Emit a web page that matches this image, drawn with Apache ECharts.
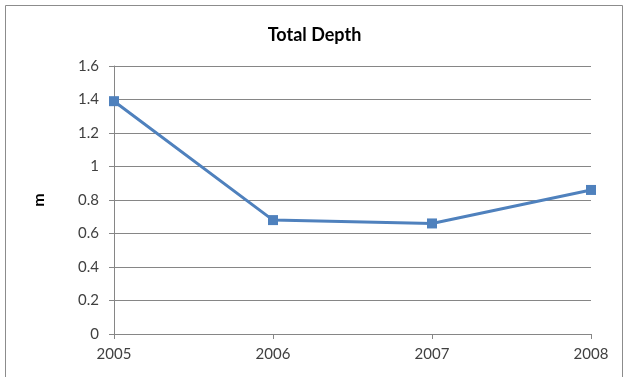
<!DOCTYPE html>
<html>
<head>
<meta charset="utf-8">
<style>
  html, body { margin: 0; padding: 0; background: #ffffff; }
  #chart { width: 629px; height: 377px; }
</style>
<script src="https://cdn.jsdelivr.net/npm/echarts@6/dist/echarts.min.js"></script>
</head>
<body>
<div id="chart"></div>
<script>
// Yearly total depth (m)
const years = ['2005', '2006', '2007', '2008'];
const totalDepth = [1.39, 0.68, 0.66, 0.86];
const yMin = 0, yMax = 1.6, yStep = 0.2;

const axisGray = '#868686';
const textColor = '#404040';
const fontFamily = 'Lato, "Open Sans", "Liberation Sans", sans-serif';

const chart = echarts.init(document.getElementById('chart'), null, { renderer: 'canvas' });
chart.setOption({
  animation: false,
  backgroundColor: '#ffffff',
  graphic: [{
    type: 'rect',
    shape: { x: 5.5, y: 5.5, width: 617, height: 400 },
    style: { fill: 'none', stroke: '#8c8c8c', lineWidth: 1 },
    silent: true
  }],
  title: {
    text: 'Total Depth',
    left: 'center',
    top: 21,
    textStyle: { fontFamily, fontSize: 18, fontWeight: 'bold', color: '#000000' }
  },
  grid: { left: 114, right: 38, top: 66, bottom: 43 },
  xAxis: {
    type: 'category',
    data: years,
    boundaryGap: false,
    axisLine: { lineStyle: { color: axisGray, width: 1 } },
    axisTick: { show: true, length: 5, lineStyle: { color: axisGray } },
    axisLabel: { margin: 13, color: textColor, fontFamily, fontSize: 15 },
    splitLine: { show: false }
  },
  yAxis: {
    type: 'value',
    min: yMin,
    max: yMax,
    interval: yStep,
    name: 'm',
    nameLocation: 'middle',
    nameGap: 67,
    nameRotate: 90,
    nameTextStyle: { fontFamily, fontSize: 16, fontWeight: 'bold', color: '#000000' },
    axisLine: { show: true, lineStyle: { color: axisGray, width: 1 } },
    axisTick: { show: true, length: 5, lineStyle: { color: axisGray } },
    axisLabel: {
      margin: 15, color: textColor, fontFamily, fontSize: 15,
      formatter: v => String(Math.round(v * 10) / 10)
    },
    splitLine: { show: true, lineStyle: { color: axisGray, width: 1 } }
  },
  series: [{
    type: 'line',
    data: totalDepth,
    symbol: 'rect',
    symbolSize: 10,
    lineStyle: { color: '#4f81bd', width: 3 },
    itemStyle: { color: '#4f81bd' }
  }]
});
</script>
</body>
</html>
